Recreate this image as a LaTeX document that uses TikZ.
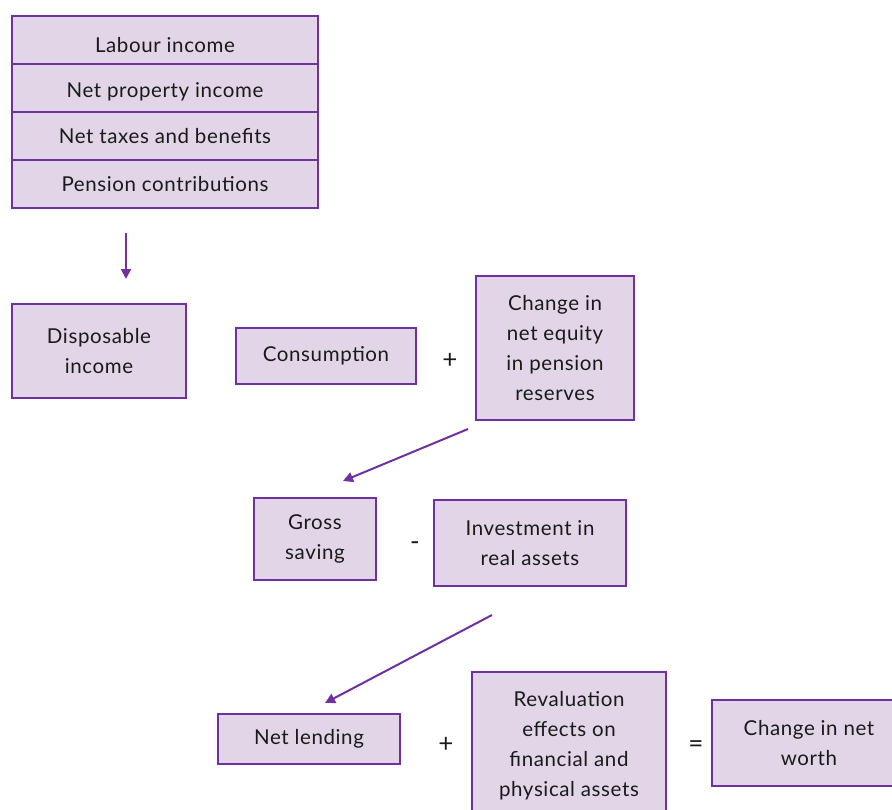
\documentclass[tikz,border=0pt]{standalone}
\usepackage{fontspec}
\setmainfont{Lato}[LetterSpace=3]
\usetikzlibrary{arrows.meta}
\definecolor{boxfill}{HTML}{E1D5E7}
\definecolor{boxline}{HTML}{7030A0}
\definecolor{ink}{HTML}{1A1A1A}
\begin{document}
\begin{tikzpicture}[x=1pt,y=-1pt,
  box/.style={draw=boxline,fill=boxfill,line width=2pt,inner sep=0pt,
    align=center,text=ink,font=\fontsize{20.5}{30}\selectfont},
  row/.style={box,minimum width=306pt,minimum height=48pt},
  op/.style={text=ink,font=\fontsize{26}{28}\selectfont,inner sep=0pt},
  arr/.style={draw=boxline,line width=2pt,-{Triangle[length=10pt,width=10pt]}}]
\useasboundingbox (0,0) rectangle (892,809);
\clip (0,0) rectangle (892,809);
% income components
\node[row,text height=25pt,text depth=0pt] (lab) at (165,40) {Labour income};
\node[row,text height=19pt,text depth=0pt] (prop) at (165,88) {Net property income};
\node[row] (tax) at (165,136) {Net taxes and benefits};
\node[row] (pens) at (165,184) {Pension contributions};
% second row
\node[box,minimum width=174pt,minimum height=94pt] (disp) at (99,351) {Disposable\\income};
\node[box,minimum width=180pt,minimum height=56pt] (cons) at (326,356) {Consumption};
\node[op] (plus1) at (450,361) {+};
\node[box,minimum width=158pt,minimum height=144pt] (chg) at (555,348) {Change in\\net equity\\in pension\\reserves};
% third row
\node[box,minimum width=122pt,minimum height=82pt] (gross) at (315,539) {Gross\\saving};
\node[op] (minus) at (415,546) {-};
\node[box,minimum width=192pt,minimum height=86pt] (inv) at (530,543) {Investment in\\real assets};
% fourth row
\node[box,minimum width=182pt,minimum height=50pt] (lend) at (309,739) {Net lending};
\node[op] (plus2) at (446,745) {+};
\node[box,minimum width=194pt,minimum height=148pt] (reval) at (569,746) {Revaluation\\effects on\\financial and\\physical assets};
\node[op] (eq) at (696,747) {=};
\node[box,minimum width=194pt,minimum height=86pt] (worth) at (809,743) {Change in net\\worth};
% arrow ends
\coordinate (a1s) at ([xshift=-39pt,yshift=-24pt]pens.south);
\coordinate (a1e) at ([xshift=27pt,yshift=24pt]disp.north);
\coordinate (a2s) at ([xshift=-7pt,yshift=-8pt]chg.south west);
\coordinate (a2e) at ([xshift=28pt,yshift=16pt]gross.north);
\coordinate (a3s) at ([xshift=59pt,yshift=-28pt]inv.south west);
\coordinate (a3e) at ([xshift=16pt,yshift=10pt]lend.north);
\draw[arr] (a1s) -- (a1e);
\draw[arr] (a2s) -- (a2e);
\draw[arr] (a3s) -- (a3e);
\end{tikzpicture}
\end{document}
